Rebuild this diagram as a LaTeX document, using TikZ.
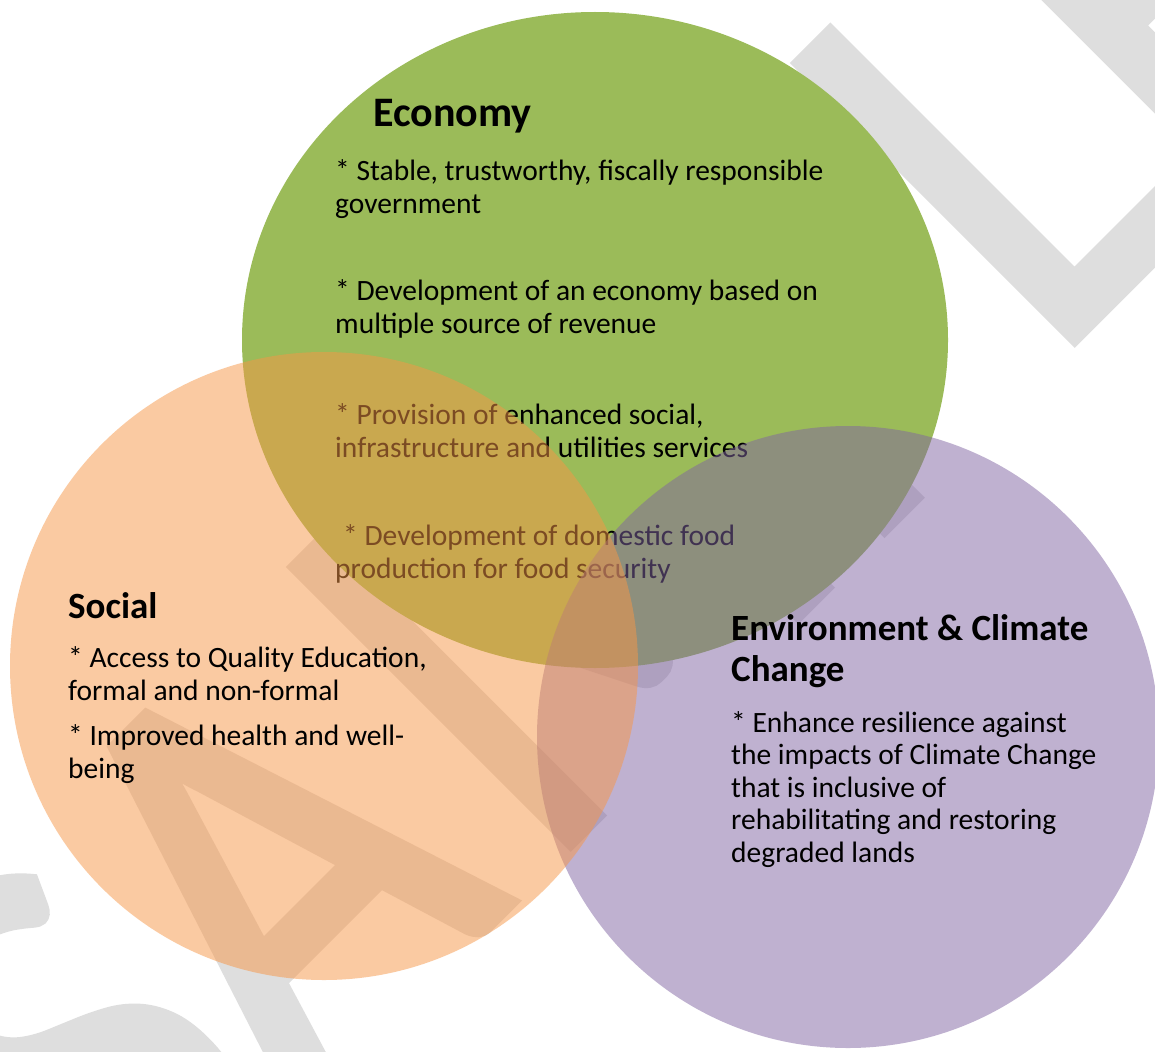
\documentclass[tikz,border=0pt]{standalone}
\usepackage{fontspec}
\setmainfont{Carlito}
\newfontfamily\wmfont[FakeBold=2]{Carlito}
\definecolor{econgreen}{HTML}{9BBB59}
\definecolor{socorange}{HTML}{F79646}
\definecolor{envpurple}{HTML}{8064A2}
\definecolor{wmgray}{RGB}{222,222,222}
\begin{document}
\begin{tikzpicture}[x=1pt,y=-1pt,
  bodytext/.style={anchor=base west, inner sep=0pt, align=left,
    font=\fontsize{29.5}{32.5}\selectfont},
  headtext/.style={anchor=base west, inner sep=0pt, align=left,
    font=\bfseries\fontsize{37}{41}\selectfont},
  watermark/.style={anchor=base west, inner sep=0pt, rotate=45, yscale=1.16,
    text=wmgray, font=\wmfont\fontsize{525}{525}\selectfont},
  blob/.style={fill opacity=0.5},
]
\useasboundingbox (0,0) rectangle (1155,1051);
\clip (0,0) rectangle (1155,1051);
\fill[white] (0,0) rectangle (1155,1051);

% background watermark
\node[watermark] (wm) at (131,1283) {SA\kern37pt MPLE};

% Economy circle and its text
\fill[econgreen] (595,340) ellipse [x radius=353pt, y radius=328pt];
\node[anchor=base west, inner sep=0pt, font=\bfseries\fontsize{42}{46}\selectfont] (econ) at (373,127) {Economy};
\node[bodytext] (e1) at (335,213) {* Stable, trustworthy, fiscally responsible\\government};
\node[bodytext] (e2) at (335,333) {* Development of an economy based on\\multiple source of revenue};
\node[bodytext] (e3) at (335,457) {* Provision of enhanced social,\\infrastructure and utilities services};
\node[bodytext] (e4) at (335,578) {\hspace*{8pt}* Development of domestic food\\production for food security};

% Environment and Social circles
\fill[envpurple, blob] (848,737) circle [radius=311pt];
\fill[socorange, blob] (324,666) circle [radius=314pt];

% Social text
\node[headtext] (soc) at (68,618) {Social};
\node[bodytext] (s1) at (68,700) {* Access to Quality Education,\\formal and non-formal};
\node[bodytext] (s2) at (68,778) {* Improved health and well-\\being};

% Environment text
\node[headtext] (env) at (731,681) {Environment \& Climate\\Change};
\node[bodytext] (v1) at (731,862) {* Enhance resilience against\\the impacts of Climate Change\\that is inclusive of\\rehabilitating and restoring\\degraded lands};
\end{tikzpicture}
\end{document}
